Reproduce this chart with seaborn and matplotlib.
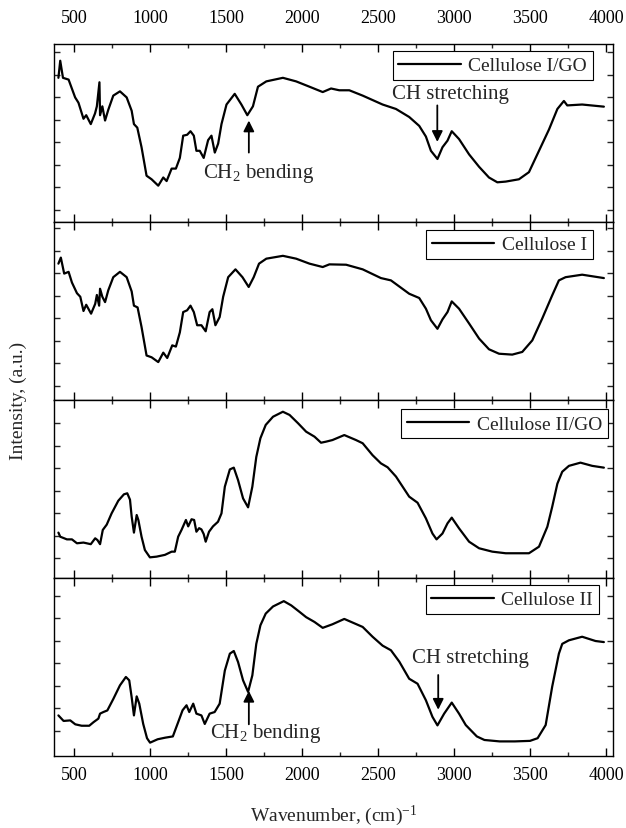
import numpy as np
import pandas as pd
import matplotlib
matplotlib.use("Agg")
import matplotlib.pyplot as plt
import seaborn as sns
from matplotlib.ticker import MultipleLocator, FixedLocator, NullFormatter

# ---------------- data ----------------
labels = ["Cellulose I/GO", "Cellulose I", "Cellulose II/GO", "Cellulose II"]

wn1 = [397,409,427,464,507,529,562,580,610,638,650,667,671,686,704,725,758,802,846,879,
       894,916,944,977,1010,1054,1087,1109,1142,1170,1196,1218,1244,1266,1288,1305,1327,1353,1382,1404,
       1426,1448,1470,1503,1557,1601,1640,1677,1710,1765,1874,1961,2049,2136,2191,2245,2311,2399,2530,2618,
       2705,2771,2815,2848,2891,2924,2957,2985,3033,3099,3165,3230,3285,3340,3427,3493,3559,3625,3680,3723,
       3745,3843,3986]
y1 = [0.81,0.906,0.81,0.80,0.70,0.67,0.58,0.60,0.55,0.61,0.65,0.785,0.60,0.65,0.57,0.63,0.71,0.734,0.70,0.625,
      0.55,0.53,0.42,0.26,0.24,0.204,0.25,0.23,0.30,0.30,0.36,0.485,0.49,0.51,0.485,0.40,0.40,0.36,0.46,0.485,
      0.39,0.44,0.55,0.66,0.72,0.66,0.60,0.65,0.76,0.79,0.81,0.79,0.76,0.73,0.75,0.74,0.74,0.71,0.66,0.635,
      0.59,0.54,0.48,0.40,0.354,0.42,0.457,0.51,0.466,0.38,0.31,0.25,0.223,0.227,0.24,0.28,0.40,0.52,0.635,0.68,
      0.655,0.66,0.648]

wn2 = [397,413,435,464,486,519,541,562,580,612,639,650,665,671,686,704,725,758,802,846,
       879,894,918,944,977,1010,1054,1087,1113,1146,1170,1196,1218,1244,1266,1288,1310,1338,1366,1392,
       1410,1430,1458,1481,1514,1562,1608,1649,1682,1717,1765,1874,1961,2049,2136,2180,2290,2399,2519,2585,
       2705,2771,2815,2848,2891,2924,2957,2985,3033,3099,3165,3230,3296,3383,3449,3515,3580,3646,3690,3734,
       3843,3986]
y2 = [0.766,0.80,0.71,0.72,0.66,0.60,0.58,0.50,0.535,0.485,0.54,0.59,0.53,0.625,0.58,0.55,0.616,0.69,0.72,0.69,
      0.61,0.53,0.52,0.41,0.25,0.24,0.213,0.266,0.236,0.307,0.30,0.38,0.494,0.504,0.53,0.494,0.42,0.42,0.386,0.494,
      0.51,0.42,0.466,0.58,0.69,0.734,0.69,0.635,0.69,0.766,0.794,0.81,0.794,0.766,0.747,0.762,0.76,0.734,0.685,0.672,
      0.597,0.573,0.513,0.448,0.40,0.453,0.494,0.554,0.513,0.43,0.345,0.285,0.26,0.255,0.27,0.335,0.457,0.588,0.672,0.69,
      0.704,0.685]

wn3 = [397,409,453,486,519,562,610,639,654,671,689,715,747,791,828,850,868,879,894,912,
       923,944,966,999,1043,1098,1142,1163,1185,1207,1236,1251,1273,1290,1305,1323,1338,1353,1366,1388,
       1414,1447,1470,1492,1525,1551,1579,1612,1645,1673,1699,1726,1761,1809,1874,1918,1973,2027,2082,2125,
       2158,2200,2278,2355,2399,2464,2519,2563,2618,2705,2760,2815,2858,2885,2924,2957,2985,3033,3099,3165,
       3252,3340,3427,3493,3559,3614,3646,3680,3712,3756,3832,3909,3986]
y3 = [0.255,0.232,0.217,0.217,0.195,0.199,0.19,0.223,0.213,0.19,0.27,0.30,0.363,0.434,0.47,0.476,0.44,0.345,0.255,0.354,
      0.326,0.232,0.157,0.116,0.12,0.13,0.148,0.148,0.232,0.27,0.326,0.29,0.33,0.326,0.26,0.28,0.273,0.247,0.204,0.26,
      0.29,0.316,0.363,0.513,0.61,0.62,0.55,0.447,0.397,0.513,0.68,0.785,0.86,0.906,0.934,0.916,0.87,0.822,0.794,0.76,
      0.766,0.775,0.803,0.775,0.757,0.69,0.644,0.622,0.57,0.457,0.423,0.335,0.25,0.217,0.25,0.307,0.339,0.279,0.204,0.167,
      0.148,0.139,0.139,0.139,0.176,0.288,0.40,0.53,0.597,0.63,0.648,0.63,0.62]

wn4 = [397,431,475,508,550,600,628,660,671,693,719,758,802,841,863,879,894,912,929,955,
       980,1000,1050,1100,1150,1185,1214,1240,1258,1284,1305,1338,1360,1392,1425,1458,1492,1525,1551,1579,
       1612,1645,1673,1699,1726,1761,1809,1880,1929,1983,2027,2082,2136,2200,2278,2399,2464,2530,2585,2640,
       2705,2760,2815,2858,2891,2935,2985,3033,3077,3150,3200,3300,3400,3500,3550,3603,3646,3690,3712,3756,
       3843,3931,3986]
y4 = [0.228,0.197,0.20,0.178,0.17,0.17,0.19,0.21,0.238,0.247,0.256,0.32,0.397,0.444,0.425,0.33,0.228,0.335,0.294,0.18,
      0.10,0.075,0.094,0.103,0.11,0.19,0.257,0.285,0.247,0.294,0.238,0.228,0.18,0.238,0.247,0.294,0.48,0.575,0.59,0.528,
      0.425,0.36,0.453,0.63,0.734,0.80,0.84,0.87,0.846,0.81,0.78,0.753,0.72,0.74,0.77,0.725,0.67,0.62,0.594,0.53,
      0.434,0.406,0.313,0.22,0.172,0.238,0.30,0.238,0.174,0.11,0.09,0.082,0.082,0.085,0.10,0.174,0.39,0.575,0.63,0.65,
      0.67,0.646,0.64]

xticks_major = [500, 1000, 1500, 2000, 2500, 3000, 3500, 4000]

# ---------------- style ----------------
sns.set_theme(style="ticks")
plt.rcParams["font.family"] = ["Liberation Serif", "DejaVu Serif"]
plt.rcParams["mathtext.fontset"] = "custom"
plt.rcParams["mathtext.rm"] = "Liberation Serif"
plt.rcParams["mathtext.it"] = "Liberation Serif:italic"
plt.rcParams["axes.linewidth"] = 1.0

W, H = 626, 829
fig = plt.figure(figsize=(W / 100, H / 100), dpi=100)
fig.subplots_adjust(left=54 / W, right=613 / W, top=1 - 45 / H, bottom=1 - 757 / H, hspace=0)
axes = fig.subplots(4, 1, sharex=True)

series = [(wn1, y1), (wn2, y2), (wn3, y3), (wn4, y4)]
legend_anchor = [(0.964, 0.961), (0.964, 0.955), (0.991, 0.949), (0.975, 0.961)]
ytick_top = [0.953, 0.966, 0.869, 0.899]

for i, (ax, (wn, yy)) in enumerate(zip(axes, series)):
    df = pd.DataFrame({"Wavenumber": wn, "Intensity": yy})
    sns.lineplot(data=df, x="Wavenumber", y="Intensity", ax=ax, color="black",
                 lw=1.6, estimator=None, label=labels[i])
    ax.set_xlim(368, 4046)
    ax.set_ylim(0, 1)
    ax.set_xlabel("")
    ax.set_ylabel("")
    ax.xaxis.set_major_locator(FixedLocator(xticks_major))
    ax.xaxis.set_minor_locator(MultipleLocator(250))
    yt = [ytick_top[i] - k * 0.1264 for k in range(8) if ytick_top[i] - k * 0.1264 > 0.02]
    ax.yaxis.set_major_locator(FixedLocator(yt))
    ax.yaxis.set_major_formatter(NullFormatter())
    ax.tick_params(axis="x", which="major", direction="in", top=True, bottom=True,
                   length=6, width=1.0, labelsize=13, pad=7, colors="black")
    ax.tick_params(axis="x", which="minor", direction="in", top=True, bottom=True,
                   length=3, width=1.0)
    ax.tick_params(axis="y", which="major", direction="in", left=True, right=True,
                   length=4, width=1.0, labelleft=False)
    ax.tick_params(axis="x", labelbottom=(i == 3), labeltop=(i == 0))
    for sp in ax.spines.values():
        sp.set_color("black")
        sp.set_linewidth(1.0)
    leg = ax.legend(loc="upper right", bbox_to_anchor=legend_anchor[i], borderaxespad=0,
                    frameon=True, fancybox=False, edgecolor="black", framealpha=1,
                    fontsize=14, handlelength=3.2, handletextpad=0.4, borderpad=0.3)
    leg.get_frame().set_linewidth(0.8)

# larger gap for the top tick labels
for t in axes[0].xaxis.get_major_ticks():
    t.set_pad(13)

# annotations
arrow_kw = dict(arrowstyle="-|>", color="black", lw=1.3, mutation_scale=16, shrinkA=0, shrinkB=0)
ax = axes[0]
ax.annotate("", xy=(1650, 0.57), xytext=(1650, 0.39), arrowprops=arrow_kw)
ax.text(1713, 0.28, r"CH$_2$ bending", ha="center", va="center", fontsize=15)
ax.annotate("", xy=(2890, 0.45), xytext=(2890, 0.655), arrowprops=arrow_kw)
ax.text(2978, 0.72, "CH stretching", ha="center", va="center", fontsize=15)

ax = axes[3]
ax.annotate("", xy=(1650, 0.366), xytext=(1650, 0.178), arrowprops=arrow_kw)
ax.text(1761, 0.13, r"CH$_2$ bending", ha="center", va="center", fontsize=15)
ax.annotate("", xy=(2896, 0.26), xytext=(2896, 0.455), arrowprops=arrow_kw)
ax.text(3110, 0.556, "CH stretching", ha="center", va="center", fontsize=15)

fig.text(18 / W, 1 - 401 / H, "Intensity, (a.u.)", rotation=90, ha="center", va="center", fontsize=14)
fig.text((54 + 613) / 2 / W, 1 - 816 / H, r"Wavenumber, (cm)$^{-1}$", ha="center", va="center", fontsize=14)

fig.savefig("out.png", dpi=100)
